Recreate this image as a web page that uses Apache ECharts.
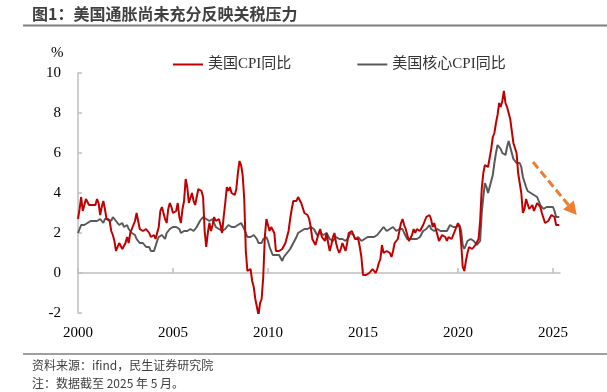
<!DOCTYPE html>
<html>
<head>
<meta charset="utf-8">
<script src="https://cdn.jsdelivr.net/npm/echarts@6/dist/echarts.min.js"></script>
<style>
  html, body { margin: 0; padding: 0; background: #fff; }
  #chart { width: 607px; height: 392px; }
</style>
</head>
<body>
<div id="chart"></div>
<script>
// 月度同比，2000年1月 - 2025年5月
const startYear = 2000;
const cpiYoy = [
  2.7, 3.2, 3.8, 3.1, 3.2, 3.7, 3.7, 3.4, 3.5, 3.4, 3.4, 3.4,
  3.7, 3.5, 2.9, 3.3, 3.6, 3.2, 2.7, 2.7, 2.6, 2.1, 1.9, 1.6,
  1.1, 1.1, 1.5, 1.6, 1.2, 1.1, 1.5, 1.8, 1.5, 2.0, 2.2, 2.4,
  2.6, 3.0, 3.0, 2.2, 2.1, 2.1, 2.1, 2.2, 2.3, 2.0, 1.8, 1.9,
  1.9, 1.7, 1.7, 2.3, 3.1, 3.3, 3.0, 2.7, 2.5, 3.2, 3.5, 3.3,
  3.0, 3.0, 3.1, 3.5, 2.8, 2.5, 3.2, 3.6, 4.7, 4.3, 3.5, 3.4,
  4.0, 3.6, 3.4, 3.5, 4.2, 4.3, 4.1, 3.8, 2.1, 1.3, 2.0, 2.5,
  2.1, 2.4, 2.8, 2.6, 2.7, 2.7, 2.4, 2.0, 2.8, 3.5, 4.3, 4.1,
  4.3, 4.0, 4.0, 3.9, 4.2, 5.0, 5.6, 5.4, 4.9, 3.7, 1.1, 0.1,
  0.0, 0.2, -0.4, -0.7, -1.3, -1.4, -2.1, -1.5, -1.3, -0.2, 1.8, 2.7,
  2.6, 2.1, 2.3, 2.2, 2.0, 1.1, 1.2, 1.1, 1.1, 1.2, 1.1, 1.5,
  1.6, 2.1, 2.7, 3.2, 3.6, 3.6, 3.6, 3.8, 3.9, 3.5, 3.4, 3.0,
  2.9, 2.9, 2.7, 2.3, 1.7, 1.7, 1.4, 1.7, 2.0, 2.2, 1.8, 1.7,
  1.6, 2.0, 1.5, 1.1, 1.4, 1.8, 2.0, 1.5, 1.2, 1.0, 1.2, 1.5,
  1.6, 1.1, 1.5, 2.0, 2.1, 2.1, 2.0, 1.7, 1.7, 1.7, 1.3, 0.8,
  -0.1, 0.0, -0.1, -0.2, 0.0, 0.1, 0.2, 0.2, 0.0, 0.2, 0.5, 0.7,
  1.4, 1.0, 0.9, 1.1, 1.0, 1.0, 0.8, 1.1, 1.5, 1.6, 1.7, 2.1,
  2.5, 2.7, 2.4, 2.2, 1.9, 1.6, 1.7, 1.9, 2.2, 2.0, 2.2, 2.1,
  2.1, 2.2, 2.4, 2.5, 2.8, 2.9, 2.9, 2.7, 2.3, 2.5, 2.2, 1.9,
  1.6, 1.5, 1.9, 2.0, 1.8, 1.6, 1.8, 1.7, 1.7, 1.8, 2.1, 2.3,
  2.5, 2.3, 1.5, 0.3, 0.1, 0.6, 1.0, 1.3, 1.4, 1.2, 1.2, 1.4,
  1.4, 1.7, 2.6, 4.2, 5.0, 5.4, 5.4, 5.3, 5.4, 6.2, 6.8, 7.0,
  7.5, 7.9, 8.5, 8.3, 8.6, 9.1, 8.5, 8.3, 8.2, 7.7, 7.1, 6.5,
  6.4, 6.0, 5.0, 4.9, 4.0, 3.0, 3.2, 3.7, 3.7, 3.2, 3.1, 3.4,
  3.1, 3.2, 3.5, 3.4, 3.3, 3.0, 2.9, 2.5, 2.4, 2.6, 2.7, 2.9,
  3.0, 2.8, 2.4, 2.3, 2.4
];
const coreCpiYoy = [
  2.0, 2.2, 2.4, 2.3, 2.4, 2.5, 2.5, 2.6, 2.6, 2.5, 2.6, 2.6,
  2.6, 2.7, 2.7, 2.6, 2.5, 2.7, 2.7, 2.7, 2.6, 2.6, 2.8, 2.7,
  2.6, 2.6, 2.4, 2.5, 2.5, 2.3, 2.2, 2.4, 2.2, 2.2, 2.0, 1.9,
  1.9, 1.7, 1.7, 1.5, 1.6, 1.5, 1.5, 1.3, 1.2, 1.3, 1.1, 1.1,
  1.1, 1.2, 1.6, 1.8, 1.7, 1.9, 1.8, 1.7, 2.0, 2.0, 2.2, 2.2,
  2.3, 2.4, 2.3, 2.2, 2.2, 2.0, 2.1, 2.1, 2.0, 2.1, 2.1, 2.2,
  2.1, 2.1, 2.1, 2.3, 2.4, 2.6, 2.7, 2.8, 2.9, 2.7, 2.6, 2.6,
  2.7, 2.7, 2.5, 2.3, 2.2, 2.2, 2.2, 2.1, 2.1, 2.2, 2.3, 2.4,
  2.5, 2.3, 2.4, 2.3, 2.3, 2.4, 2.5, 2.5, 2.5, 2.2, 2.0, 1.8,
  1.7, 1.8, 1.8, 1.9, 1.8, 1.7, 1.5, 1.4, 1.5, 1.7, 1.7, 1.8,
  1.6, 1.3, 1.1, 0.9, 0.9, 0.9, 0.9, 0.9, 0.8, 0.6, 0.8, 0.8,
  1.0, 1.1, 1.2, 1.3, 1.5, 1.6, 1.8, 2.0, 2.0, 2.1, 2.2, 2.2,
  2.3, 2.2, 2.3, 2.3, 2.3, 2.2, 2.1, 1.9, 2.0, 2.0, 1.9, 1.9,
  1.9, 2.0, 1.9, 1.7, 1.7, 1.6, 1.7, 1.8, 1.7, 1.7, 1.7, 1.7,
  1.6, 1.6, 1.7, 1.8, 2.0, 1.9, 1.9, 1.7, 1.7, 1.8, 1.7, 1.6,
  1.6, 1.7, 1.8, 1.8, 1.7, 1.8, 1.8, 1.8, 1.9, 1.9, 2.0, 2.1,
  2.2, 2.3, 2.2, 2.1, 2.2, 2.2, 2.2, 2.3, 2.2, 2.1, 2.1, 2.2,
  2.3, 2.2, 2.0, 1.9, 1.7, 1.7, 1.7, 1.7, 1.7, 1.8, 1.7, 1.8,
  1.8, 1.8, 2.1, 2.1, 2.2, 2.3, 2.4, 2.2, 2.2, 2.1, 2.2, 2.2,
  2.2, 2.1, 2.0, 2.1, 2.0, 2.1, 2.2, 2.4, 2.4, 2.3, 2.3, 2.3,
  2.3, 2.4, 2.1, 1.4, 1.2, 1.2, 1.6, 1.7, 1.7, 1.6, 1.6, 1.6,
  1.4, 1.3, 1.6, 3.0, 3.8, 4.5, 4.3, 4.0, 4.0, 4.6, 4.9, 5.5,
  6.0, 6.4, 6.5, 6.2, 6.0, 5.9, 5.9, 6.3, 6.6, 6.3, 6.0, 5.7,
  5.6, 5.5, 5.6, 5.5, 5.3, 4.8, 4.7, 4.3, 4.1, 4.0, 4.0, 3.9,
  3.9, 3.8, 3.8, 3.6, 3.4, 3.3, 3.2, 3.2, 3.3, 3.3, 3.3, 3.2,
  3.3, 3.1, 2.8, 2.8, 2.8
];
const yearTicks = [2000, 2005, 2010, 2015, 2020, 2025];
// 趋势箭头（数据坐标）
const arrowFrom = [2023.95, 5.55];
const arrowTo = [2026.25, 2.9];

const toPairs = (arr) => arr.map((v, i) => [startYear + i / 12, v]);

const chart = echarts.init(document.getElementById('chart'));
const serif = '"Liberation Serif", "Noto Sans CJK SC", serif';
const sans = '"Noto Sans CJK SC", sans-serif';
const axisGrey = '#BFBFBF';

chart.setOption({
  animation: false,
  backgroundColor: '#fff',
  grid: { left: 78, right: 47, top: 73, bottom: 79 },
  legend: {
    top: 52,
    left: 168,
    icon: 'rect',
    itemWidth: 30,
    itemHeight: 2,
    itemGap: 66,
    textStyle: { fontFamily: serif, fontSize: 15, color: '#333' },
    data: ['美国CPI同比', '美国核心CPI同比']
  },
  xAxis: {
    type: 'value',
    min: 2000,
    max: 2025.37,
    interval: 5,
    splitLine: { show: false },
    axisLine: { onZero: true, lineStyle: { color: axisGrey, width: 1.5 } },
    axisTick: { inside: true, length: 5, customValues: yearTicks, lineStyle: { color: axisGrey, width: 1.5 } },
    axisLabel: {
      customValues: yearTicks,
      formatter: (v) => String(v),
      margin: 13,
      fontFamily: serif,
      fontSize: 15,
      color: '#000'
    }
  },
  yAxis: {
    type: 'value',
    min: -2,
    max: 10,
    interval: 2,
    splitLine: { show: false },
    axisLine: { show: true, lineStyle: { color: axisGrey, width: 1.5 } },
    axisTick: { show: true, inside: true, length: 4, lineStyle: { color: axisGrey, width: 1.5 } },
    axisLabel: { margin: 17, fontFamily: serif, fontSize: 15, color: '#000' }
  },
  series: [
    {
      name: '美国CPI同比',
      type: 'line',
      data: toPairs(cpiYoy),
      symbol: 'none',
      z: 3,
      lineStyle: { color: '#C00000', width: 2 },
      itemStyle: { color: '#C00000' }
    },
    {
      name: '美国核心CPI同比',
      type: 'line',
      data: toPairs(coreCpiYoy),
      symbol: 'none',
      z: 2,
      lineStyle: { color: '#595959', width: 2 },
      itemStyle: { color: '#595959' }
    }
  ]
});

// 标题、分隔线、注释和趋势箭头
const p0 = chart.convertToPixel({ xAxisIndex: 0, yAxisIndex: 0 }, arrowFrom);
const p1 = chart.convertToPixel({ xAxisIndex: 0, yAxisIndex: 0 }, arrowTo);
const ang = Math.atan2(p1[1] - p0[1], p1[0] - p0[0]);
const headLen = 13, headHalf = 7;
const base = [p1[0] - headLen * Math.cos(ang), p1[1] - headLen * Math.sin(ang)];
const nx = -Math.sin(ang), ny = Math.cos(ang);

chart.setOption({
  graphic: [
    {
      type: 'text', left: 32, top: 6,
      style: { text: '图1：美国通胀尚未充分反映关税压力', fontFamily: sans, fontSize: 16, fontWeight: 'bold', fill: '#404040' }
    },
    { type: 'line', shape: { x1: 23, y1: 25.5, x2: 607, y2: 25.5 }, style: { stroke: '#7F7F7F', lineWidth: 2 } },
    {
      type: 'text', left: 51, top: 46,
      style: { text: '%', fontFamily: serif, fontSize: 15, fill: '#000' }
    },
    { type: 'line', shape: { x1: 23, y1: 354, x2: 607, y2: 354 }, style: { stroke: '#7F7F7F', lineWidth: 1.5 } },
    {
      type: 'text', left: 32, top: 359,
      style: { text: '资料来源：ifind，民生证券研究院', fontFamily: sans, fontSize: 12, fill: '#404040' }
    },
    {
      type: 'text', left: 32, top: 377,
      style: { text: '注：数据截至 2025 年 5 月。', fontFamily: sans, fontSize: 12, fill: '#404040' }
    },
    {
      type: 'line', z: 10,
      shape: { x1: p0[0], y1: p0[1], x2: base[0], y2: base[1] },
      style: { stroke: '#ED7D31', lineWidth: 3, lineDash: [8, 4] }
    },
    {
      type: 'polygon', z: 10,
      shape: {
        points: [
          [p1[0], p1[1]],
          [base[0] + nx * headHalf, base[1] + ny * headHalf],
          [base[0] - nx * headHalf, base[1] - ny * headHalf]
        ]
      },
      style: { fill: '#ED7D31' }
    }
  ]
});
</script>
</body>
</html>
